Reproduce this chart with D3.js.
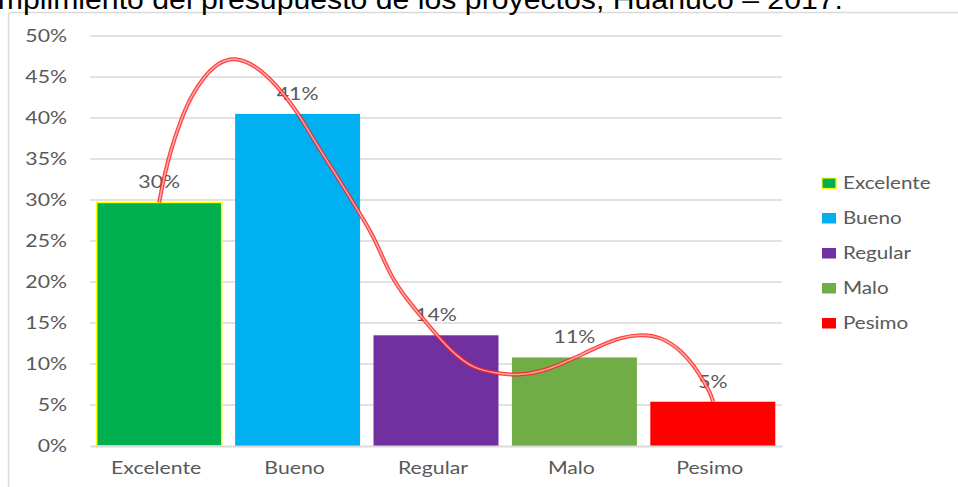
<!DOCTYPE html>
<html>
<head>
<meta charset="utf-8">
<script src="https://cdn.jsdelivr.net/npm/d3@7"></script>
<style>
  html, body { margin: 0; padding: 0; background: #fff; overflow: hidden; }
  text { font-family: Lato, "Open Sans", sans-serif; }
</style>
</head>
<body>
<div id="chart"></div>
<script>
const titleText = "Cumplimiento del presupuesto de los proyectos, Huánuco – 2017.";
const categories = ["Excelente", "Bueno", "Regular", "Malo", "Pesimo"];
const values = [29.7, 40.5, 13.5, 10.8, 5.4];
const colors = ["#00B050", "#00B0F0", "#7030A0", "#70AD47", "#FF0000"];
const yTicks = [0, 5, 10, 15, 20, 25, 30, 35, 40, 45, 50];

// freehand red curve drawn over the bars (x = category position, y = percent)
const curvePos = [0.0, 0.035, 0.084, 0.156, 0.228, 0.324, 0.421, 0.541, 0.70, 0.85, 0.999, 1.117, 1.240, 1.361, 1.478, 1.56,
                  1.673, 1.794, 1.914, 2.035, 2.155, 2.275, 2.420, 2.613, 2.806, 2.998, 3.167, 3.335, 3.480, 3.624, 3.769, 3.889, 3.985, 4.002];
const curvePct = [29.7, 32.84, 36.1, 39.76, 42.6, 45.04, 46.67, 47.48, 46.4, 44.0, 40.77, 37.32, 34.06, 30.82, 27.56, 25.2,
                  20.65, 17.8, 15.37, 12.93, 10.89, 9.48, 8.87, 8.57, 9.27, 10.7, 12.11, 13.26, 13.62, 13.33, 11.71, 9.27, 6.43, 5.4];

const W = 958, H = 487;
const plot = { left: 90, right: 782, top: 36, bottom: 446 };
const stretch = 1.25;
const textColor = "#595959";
const gridColor = "#d9d9d9";

const svg = d3.select("#chart").append("svg")
  .attr("width", W)
  .attr("height", H);

// chart frame
svg.append("rect")
  .attr("x", 8.5).attr("y", 12.5)
  .attr("width", 960).attr("height", 520)
  .attr("rx", 3)
  .attr("fill", "#fff")
  .attr("stroke", gridColor)
  .attr("stroke-width", 1.5);

// title, clipped at the top and left like the source
svg.append("text")
  .attr("text-anchor", "end")
  .attr("transform", `translate(843, 9) scale(1.12, 1)`)
  .style("font-family", "'Liberation Sans', Arial, sans-serif")
  .attr("font-size", 27)
  .attr("fill", "#000")
  .text(titleText);

const x = d3.scaleBand()
  .domain(categories)
  .range([plot.left, plot.right])
  .paddingInner(0.097)
  .paddingOuter(0.0485);

const y = d3.scaleLinear()
  .domain([0, 50])
  .range([plot.bottom, plot.top]);

const xPos = d3.scaleLinear()
  .domain([0, categories.length - 1])
  .range([x(categories[0]) + x.bandwidth() / 2, x(categories[categories.length - 1]) + x.bandwidth() / 2]);

// gridlines
svg.append("g")
  .selectAll("line")
  .data(yTicks.filter(t => t > 0))
  .enter()
  .append("line")
  .attr("x1", plot.left)
  .attr("x2", plot.right)
  .attr("y1", d => y(d))
  .attr("y2", d => y(d))
  .attr("stroke", gridColor)
  .attr("stroke-width", 1.5);

// y axis
const yAxis = svg.append("g")
  .attr("transform", `translate(${plot.left},0)`)
  .call(d3.axisLeft(y).tickValues(yTicks).tickSize(0).tickFormat(d => d + "%"));
yAxis.select(".domain").remove();
yAxis.selectAll("text")
  .attr("x", 0)
  .attr("dy", "0.35em")
  .attr("transform", `translate(-23,0) scale(${stretch},1)`)
  .attr("font-size", 17)
  .attr("font-family", null)
  .attr("fill", textColor);

// bars
svg.append("g")
  .selectAll("rect")
  .data(categories)
  .enter()
  .append("rect")
  .attr("x", d => x(d))
  .attr("y", (d, i) => y(values[i]))
  .attr("width", x.bandwidth())
  .attr("height", (d, i) => y(0) - y(values[i]))
  .attr("fill", (d, i) => colors[i])
  .attr("stroke", (d, i) => i === 0 ? "#FFFF00" : "none")
  .attr("stroke-width", 1.5);

// x axis
const xAxis = svg.append("g")
  .attr("transform", `translate(0,${plot.bottom})`)
  .call(d3.axisBottom(x).tickSize(0).tickSizeOuter(0));
xAxis.select(".domain")
  .attr("stroke", gridColor)
  .attr("stroke-width", 2);
xAxis.selectAll("text")
  .attr("y", 0)
  .attr("dy", 0)
  .attr("transform", `translate(-3,28) scale(${stretch},1)`)
  .attr("font-size", 17)
  .attr("font-family", null)
  .attr("fill", textColor);

// data labels
svg.append("g")
  .selectAll("text")
  .data(categories)
  .enter()
  .append("text")
  .attr("text-anchor", "middle")
  .attr("transform", (d, i) => `translate(${x(d) + x.bandwidth() / 2},${y(values[i]) - 14}) scale(${stretch},1)`)
  .attr("font-size", 17)
  .attr("fill", textColor)
  .text((d, i) => Math.round(values[i]) + "%");

// red double-line curve
const curveData = curvePos.map((p, i) => [p, curvePct[i]]);
const line = d3.line()
  .x(d => xPos(d[0]))
  .y(d => y(d[1]))
  .curve(d3.curveBasis);

svg.append("path")
  .attr("d", line(curveData))
  .attr("fill", "none")
  .attr("stroke", "#FF2020")
  .attr("stroke-opacity", 0.85)
  .attr("stroke-width", 4);
svg.append("path")
  .attr("d", line(curveData))
  .attr("fill", "none")
  .attr("stroke", "#fff")
  .attr("stroke-opacity", 0.55)
  .attr("stroke-width", 1.5);

// legend
const legend = svg.append("g")
  .attr("transform", "translate(822,183)");
const items = legend.selectAll("g")
  .data(categories)
  .enter()
  .append("g")
  .attr("transform", (d, i) => `translate(0,${i * 35})`);
items.append("rect")
  .attr("x", 0)
  .attr("y", -5)
  .attr("width", 14)
  .attr("height", 10.5)
  .attr("fill", (d, i) => colors[i])
  .attr("stroke", (d, i) => i === 0 ? "#FFFF00" : "none")
  .attr("stroke-width", 1.2);
items.append("text")
  .attr("transform", `translate(21,0) scale(${stretch},1)`)
  .attr("dy", "0.35em")
  .attr("font-size", 16.5)
  .attr("fill", textColor)
  .text(d => d);
</script>
</body>
</html>
